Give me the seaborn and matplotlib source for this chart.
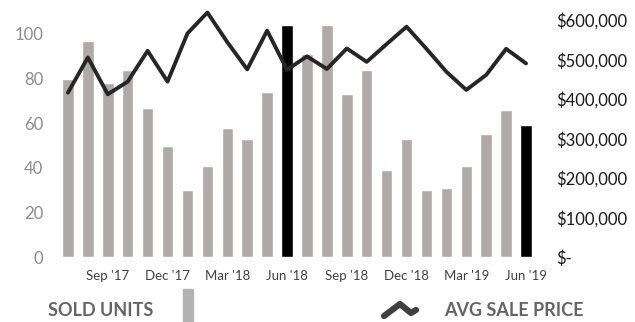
import matplotlib
matplotlib.use("Agg")
import matplotlib.pyplot as plt
import matplotlib.ticker as mticker
from matplotlib.patches import Rectangle
from matplotlib.lines import Line2D
import seaborn as sns
import numpy as np
import pandas as pd

months = ["Jul '17", "Aug '17", "Sep '17", "Oct '17", "Nov '17", "Dec '17",
          "Jan '18", "Feb '18", "Mar '18", "Apr '18", "May '18", "Jun '18",
          "Jul '18", "Aug '18", "Sep '18", "Oct '18", "Nov '18", "Dec '18",
          "Jan '19", "Feb '19", "Mar '19", "Apr '19", "May '19", "Jun '19"]
sold_units = [80, 97, 78, 84, 67, 50, 30, 41, 58, 53, 74, 104,
              91, 104, 73, 84, 39, 53, 30, 31, 41, 55, 66, 59]
avg_price = [416000, 505000, 412000, 444000, 522000, 444000,
             566000, 619000, 544000, 475000, 573000, 474000,
             508000, 476000, 528000, 494000, 539000, 583000,
             527000, 469000, 423000, 461000, 527000, 490000]
highlight = ["Jun '18", "Jun '19"]
tick_months = ["Sep '17", "Dec '17", "Mar '18", "Jun '18",
               "Sep '18", "Dec '18", "Mar '19", "Jun '19"]

df = pd.DataFrame({"month": months, "units": sold_units, "price": avg_price})
df["pos"] = np.arange(len(df))
palette = {m: ("#000000" if m in highlight else "#AEAAAA") for m in months}

sns.set_style("white")
plt.rcParams["font.family"] = ["Lato", "DejaVu Sans"]

fig = plt.figure(figsize=(6.35, 3.22), dpi=100)
ax = fig.add_axes([56 / 635, 65 / 322, 482 / 635, 252 / 322])

sns.barplot(data=df, x="month", y="units", hue="month", palette=palette,
            order=months, width=0.58, legend=False, ax=ax, saturation=1)
ax.set_xlim(-0.6, len(months) - 0.4)
ax.set_ylim(0, 252 / 2.23)
ax.set_yticks([0, 20, 40, 60, 80, 100])
ax.set_xticks([months.index(m) for m in tick_months])
ax.set_xticklabels(tick_months)
ax.set_xlabel("")
ax.set_ylabel("")
ax.tick_params(axis="x", length=0, pad=9, labelsize=9.5, labelcolor="#404040")
ax.tick_params(axis="y", length=0, pad=9, labelsize=12, labelcolor="#8C8C8C")
for s in ax.spines.values():
    s.set_visible(False)

ax2 = ax.twinx()
sns.lineplot(data=df, x="pos", y="price", color="#262626", linewidth=2.8, ax=ax2)
ax2.set_ylim(0, 252 / 237 * 600000)
ax2.set_yticks(range(0, 600001, 100000))
ax2.yaxis.set_major_formatter(mticker.FuncFormatter(
    lambda v, p: "$-" if v == 0 else f"${v:,.0f}"))
ax2.set_xlabel("")
ax2.set_ylabel("")
ax2.tick_params(axis="y", length=0, pad=13, labelsize=12, labelcolor="#1A1A1A")
for s in ax2.spines.values():
    s.set_visible(False)

# custom legend row at the bottom
fig.text(48 / 635, 1 - 310 / 322, "SOLD UNITS", fontsize=13, fontweight="bold",
         color="#646464", va="center", ha="left")
fig.patches.append(Rectangle((183 / 635, 0), 10 / 635, 33 / 322,
                             transform=fig.transFigure, color="#B3B3B3"))
fig.lines.append(Line2D(np.array([384, 400, 411, 416]) / 635,
                        1 - np.array([316, 304, 313, 310]) / 322,
                        transform=fig.transFigure, color="#404040",
                        linewidth=4.5))
fig.text(444 / 635, 1 - 310 / 322, "AVG SALE PRICE", fontsize=13, fontweight="bold",
         color="#646464", va="center", ha="left")

fig.savefig("out.png", dpi=100)
